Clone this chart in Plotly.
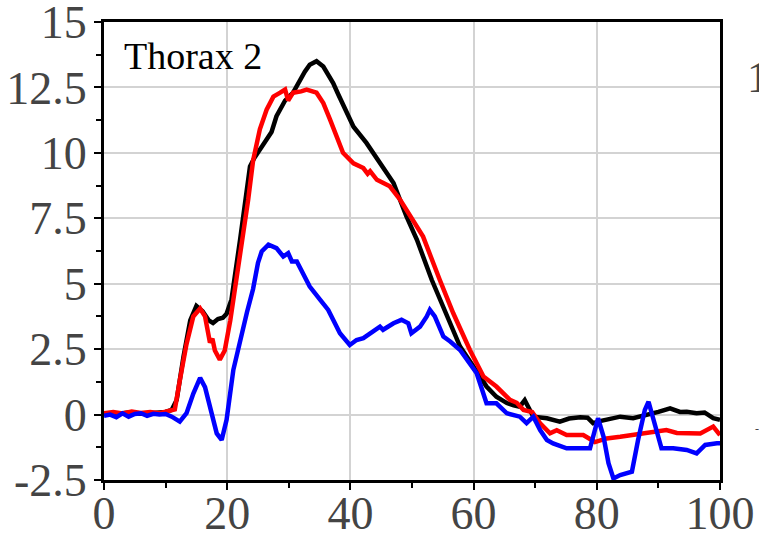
import plotly.graph_objects as go

# ---- data ----
black_x = [0, 2, 4, 6, 8, 10, 11, 11.8, 12.9, 14, 15, 16, 17, 17.7, 18.5, 19.3, 19.9, 20.7, 22.1, 23, 23.7, 24.4, 25.3, 26.4, 27.2, 28, 29.4, 30.7, 31.8, 32.6, 33.4, 34.5, 35.6, 36.4, 37.2, 38, 38.8, 40.5, 42.6, 44.8, 47, 49.1, 50.8, 53.2, 55.6, 57.8, 60, 62.1, 63.7, 65.4, 66.5, 67.5, 68.3, 69.7, 71.9, 74, 75.5, 77.3, 78.5, 79.4, 80.5, 81.6, 83.8, 85.9, 88.1, 90, 91.9, 93.5, 94.6, 96.2, 97.5, 98.9, 100]
black_y = [0.05, 0.02, 0.08, 0.03, 0.06, 0.1, 0.18, 0.56, 2.2, 3.6, 4.15, 3.95, 3.6, 3.5, 3.65, 3.7, 3.85, 4.4, 6.7, 8.3, 9.48, 9.8, 10.1, 10.5, 10.8, 11.4, 12.0, 12.3, 12.8, 13.1, 13.37, 13.5, 13.3, 13.0, 12.67, 12.25, 11.84, 11.0, 10.38, 9.6, 8.85, 7.57, 6.68, 5.15, 3.87, 2.6, 1.83, 1.07, 0.68, 0.44, 0.35, 0.3, 0.55, -0.08, -0.14, -0.27, -0.15, -0.1, -0.12, -0.33, -0.25, -0.2, -0.08, -0.14, -0.02, 0.1, 0.24, 0.1, 0.11, 0.05, 0.08, -0.14, -0.2]

red_x = [0, 1.5, 3, 4.5, 6, 7.5, 9, 10.5, 11.5, 12.3, 13.4, 14.5, 15.6, 16.4, 17.2, 17.6, 18, 18.8, 19.6, 20.5, 21.5, 22.6, 23.4, 24.2, 25.3, 26.4, 27.5, 28.6, 29.4, 29.9, 30.7, 32, 32.9, 34.5, 35.6, 36.7, 37.8, 38.8, 40.5, 42.1, 42.8, 43.2, 44.3, 45.3, 46.4, 48.1, 49.7, 51.8, 54.5, 56.7, 59.4, 61.6, 63.7, 65.9, 67, 68.1, 69.5, 70.8, 72.4, 73.5, 75.1, 77.8, 79.7, 81.6, 83.8, 85.9, 88.6, 91.3, 93, 94.6, 96.8, 98.9, 100]
red_y = [0.05, 0.1, 0.04, 0.12, 0.06, 0.1, 0.05, 0.12, 0.2, 1.3, 2.7, 3.75, 4.05, 3.75, 2.75, 2.9, 2.45, 2.1, 2.45, 3.6, 5.15, 6.7, 8.2, 9.7, 10.9, 11.65, 12.15, 12.3, 12.42, 12.0, 12.3, 12.35, 12.42, 12.3, 11.9, 11.27, 10.63, 10.0, 9.6, 9.42, 9.2, 9.3, 8.97, 8.85, 8.72, 8.2, 7.57, 6.8, 5.15, 3.87, 2.47, 1.45, 1.07, 0.56, 0.45, 0.18, 0.1, -0.33, -0.72, -0.6, -0.78, -0.78, -1.05, -0.91, -0.85, -0.78, -0.72, -0.59, -0.7, -0.72, -0.72, -0.46, -0.78]

blue_x = [0, 1, 2, 3, 4, 5, 6, 7, 8, 9, 10, 11, 12.3, 13.4, 14.5, 15.6, 16.4, 17.5, 18.3, 19.1, 19.9, 21, 22.1, 23.2, 24.2, 25, 25.6, 26.7, 28, 29.1, 29.9, 30.5, 31.3, 32.1, 33.4, 35.1, 36.4, 37.2, 38.3, 39.9, 41, 42.1, 43.7, 44.8, 45.3, 47, 48.3, 49.4, 49.9, 51.3, 52.4, 52.9, 53.7, 55.1, 56.2, 57.8, 60.5, 62.1, 63.7, 65.4, 67.5, 68.6, 69.7, 70.8, 71.9, 72.9, 75.1, 77.3, 78.9, 80.2, 81.1, 81.9, 82.7, 83.8, 85.7, 86.7, 87.8, 88.4, 89.2, 90.5, 92.4, 94.6, 96.2, 97.6, 99.5, 100]
blue_y = [-0.05, 0.0, -0.1, 0.05, -0.08, 0.02, 0.05, -0.05, 0.03, 0.0, 0.02, -0.08, -0.27, 0.05, 0.8, 1.4, 1.05, 0.05, -0.72, -0.97, -0.2, 1.71, 2.85, 3.9, 4.8, 5.8, 6.23, 6.49, 6.36, 6.04, 6.17, 5.85, 5.85, 5.47, 4.89, 4.38, 4.0, 3.62, 3.11, 2.66, 2.85, 2.92, 3.17, 3.36, 3.24, 3.49, 3.62, 3.49, 3.11, 3.36, 3.75, 4.0, 3.75, 2.98, 2.79, 2.47, 1.58, 0.43, 0.43, 0.05, -0.08, -0.33, -0.08, -0.59, -0.97, -1.1, -1.29, -1.29, -1.29, -0.14, -0.85, -1.86, -2.44, -2.31, -2.18, -0.97, 0.18, 0.49, -0.2, -1.29, -1.29, -1.35, -1.48, -1.16, -1.1, -1.1]

x_tick_vals = [0, 20, 40, 60, 80, 100]
x_tick_labels = ["0", "20", "40", "60", "80", "100"]
y_tick_vals = [-2.5, 0, 2.5, 5, 7.5, 10, 12.5, 15]
y_tick_labels = ["-2.5", "0", "2.5", "5", "7.5", "10", "12.5", "15"]
panel_label = "Thorax 2"

FONT = "Liberation Serif, Times New Roman, serif"

fig = go.Figure()
for xs, ys, col in [(black_x, black_y, "#000000"), (red_x, red_y, "#ff0000"), (blue_x, blue_y, "#0000ff")]:
    fig.add_trace(go.Scatter(x=xs, y=ys, mode="lines",
                             line=dict(color=col, width=4.5), showlegend=False))

tickfont = dict(family=FONT, size=46, color="#444444")
axis_common = dict(showline=True, linecolor="black", linewidth=3, mirror=True,
                   ticks="outside", ticklen=7, tickwidth=2, tickcolor="black",
                   showgrid=True, gridcolor="#d3d3d3", gridwidth=1.5, zeroline=False,
                   tickfont=tickfont, automargin=False, ticklabeloverflow="allow")

fig.update_xaxes(range=[0, 100], tickmode="array", tickvals=x_tick_vals, ticktext=x_tick_labels,
                 ticklabelstandoff=-16,
                 minor=dict(tickmode="linear", tick0=0, dtick=10, ticks="outside", ticklen=5,
                            tickwidth=2, tickcolor="black", showgrid=False),
                 **axis_common)
fig.update_yaxes(range=[-2.5, 15], tickmode="array", tickvals=y_tick_vals, ticktext=y_tick_labels,
                 ticklabelstandoff=-2,
                 minor=dict(tickmode="linear", tick0=0, dtick=1.25, ticks="outside", ticklen=5,
                            tickwidth=2, tickcolor="black", showgrid=False),
                 **axis_common)

fig.add_annotation(text=panel_label, xref="paper", yref="paper", x=0.029, y=0.925,
                   xanchor="left", yanchor="middle", showarrow=False,
                   font=dict(family=FONT, size=38, color="black"))
# clipped labels of a neighbouring panel at the right edge
fig.add_annotation(text="1", xref="paper", yref="paper", x=(745 - 104) / 616, y=(480 - 78) / 457.5,
                   xanchor="left", yanchor="middle", showarrow=False,
                   font=dict(family=FONT, size=44, color="#444444"))
fig.add_annotation(text="-", xref="paper", yref="paper", x=(757 - 104) / 616, y=(480 - 429) / 457.5,
                   xanchor="center", yanchor="middle", showarrow=False,
                   font=dict(family=FONT, size=12, color="#444444"))

fig.update_layout(width=759, height=540, margin=dict(l=104, r=39, t=22, b=60),
                  paper_bgcolor="white", plot_bgcolor="white")
fig.write_html("out.html", config={"displayModeBar": False},
               post_script="document.body.style.margin='0';document.body.style.overflow='hidden';")
